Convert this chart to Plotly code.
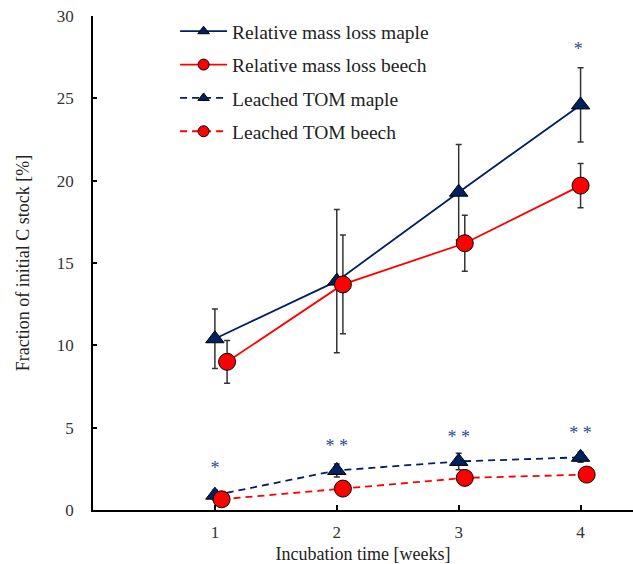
import plotly.graph_objects as go

# ---- data ----
weeks = [1, 2, 3, 4]
beech_rel_x = [1.10, 2.05, 3.05, 4.00]
beech_leach_x = [1.055, 2.05, 3.05, 4.05]

maple_rel = [10.4, 13.9, 19.3, 24.6]
maple_rel_err = [1.8, 4.35, 2.9, 2.25]
beech_rel = [9.0, 13.7, 16.2, 19.7]
beech_rel_err = [1.3, 3.0, 1.7, 1.35]

maple_leach = [0.9, 2.4, 2.95, 3.2]
maple_leach_err = [0.3, 0.4, 0.5, 0.3]
beech_leach = [0.65, 1.3, 1.95, 2.15]
beech_leach_err = [0.1, 0.15, 0.2, 0.2]

sig_leach_x = [1, 2, 3, 4]
sig_leach_y = [2.45, 3.8, 4.35, 4.6]
sig_leach_txt = ["*", "* *", "* *", "* *"]
sig_rel_x = [3.98]
sig_rel_y = [27.9]
sig_rel_txt = ["*"]

x_ticks = [1, 2, 3, 4]
y_ticks = [0, 5, 10, 15, 20, 25, 30]

NAVY = "#002060"
RED = "#FF0000"
FONT = "Liberation Serif"

fig = go.Figure()

def add(x, y, err, name, color, symbol, dash, group):
    fig.add_trace(go.Scatter(
        x=x, y=y, name=name, legendgroup=group, showlegend=False,
        mode="lines+markers",
        line=dict(color=color, width=1.8, dash=dash),
        marker=dict(symbol=symbol, size=17 if symbol == "circle" else 16,
                    color=color, line=dict(color="black", width=1)),
        error_y=dict(type="data", array=err, visible=True,
                     color="#333333", thickness=1.5, width=3),
    ))
    # legend entry (smaller marker, same style)
    fig.add_trace(go.Scatter(
        x=[None], y=[None], name=name, legendgroup=group, showlegend=True,
        mode="lines+markers",
        line=dict(color=color, width=1.8, dash=dash),
        marker=dict(symbol=symbol, size=11 if symbol == "circle" else 10,
                    color=color, line=dict(color="black", width=1)),
    ))

add(weeks, maple_rel, maple_rel_err, "Relative mass loss maple", NAVY, "triangle-up", "solid", "a")
add(beech_rel_x, beech_rel, beech_rel_err, "Relative mass loss beech", RED, "circle", "solid", "b")
add(weeks, maple_leach, maple_leach_err, "Leached TOM maple", NAVY, "triangle-up", "7px,5px", "c")
add(beech_leach_x, beech_leach, beech_leach_err, "Leached TOM beech", RED, "circle", "7px,5px", "d")

fig.add_trace(go.Scatter(x=sig_leach_x, y=sig_leach_y, text=sig_leach_txt, mode="text",
                         textposition="middle center", showlegend=False,
                         textfont=dict(color="#2F4A8A", size=18, family=FONT)))
fig.add_trace(go.Scatter(x=sig_rel_x, y=sig_rel_y, text=sig_rel_txt, mode="text",
                         textposition="middle center", showlegend=False,
                         textfont=dict(color="#2F4A8A", size=18, family=FONT)))

fig.update_layout(
    width=633, height=564,
    margin=dict(l=93, r=0, t=16, b=54, autoexpand=False),
    paper_bgcolor="white", plot_bgcolor="white",
    font=dict(family=FONT, size=18, color="#222222"),
    showlegend=True,
    legend=dict(x=0.152, y=1.008, xanchor="left", yanchor="top",
                font=dict(size=19.5, family=FONT, color="#222222"),
                bgcolor="rgba(0,0,0,0)", itemwidth=47,
                traceorder="grouped", tracegroupgap=5),
)
fig.update_xaxes(
    range=[0, 4.43], tickvals=x_ticks, ticktext=[str(t) for t in x_ticks],
    showgrid=False, zeroline=False, showline=True, linecolor="black", linewidth=1.8,
    ticks="inside", ticklen=5, tickwidth=1.5, tickcolor="black",
    ticklabelstandoff=6,
    title=dict(text="Incubation time [weeks]", font=dict(size=18, family=FONT), standoff=7),
    tickfont=dict(size=17, family=FONT, color="#333333"),
)
fig.update_yaxes(
    range=[0, 30], tickvals=y_ticks,
    showgrid=False, zeroline=False, showline=True, linecolor="black", linewidth=1.8,
    ticks="inside", ticklen=4, tickwidth=1.5, tickcolor="black",
    ticklabelstandoff=14,
    title=dict(text="Fraction of initial C stock [%]", font=dict(size=18, family=FONT), standoff=22),
    tickfont=dict(size=17, family=FONT, color="#333333"),
)

fig.write_html("out.html")
